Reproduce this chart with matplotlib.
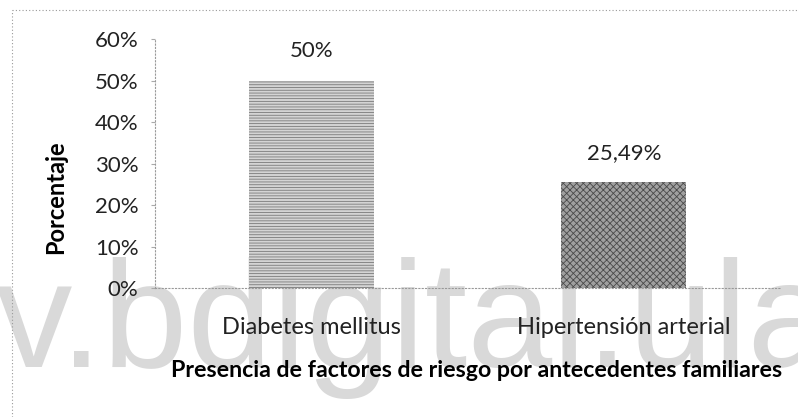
import matplotlib.pyplot as plt

categorias = ["Diabetes mellitus", "Hipertensión arterial"]
valores = [50, 25.49]
etiquetas = ["50%", "25,49%"]
yticks = [0, 10, 20, 30, 40, 50, 60]

plt.rcParams['font.family'] = ['Lato', 'DejaVu Sans']
plt.rcParams['hatch.linewidth'] = 0.6

fig = plt.figure(figsize=(7.98, 4.17), dpi=100)

# watermark behind everything
fig.text(-5 / 798, 1 - 367 / 417, "v.bdigital.ula", fontsize=110, color='#d9d9d9',
         family='Liberation Sans', ha='left', va='baseline', zorder=-5)

# outer chart border (only left/top visible)
fig.add_artist(plt.Line2D([12 / 798, 12 / 798], [0, 1 - 10 / 417], transform=fig.transFigure,
                          color='#999999', lw=0.8, ls=(0, (1, 2))))
fig.add_artist(plt.Line2D([12 / 798, 1], [1 - 10 / 417, 1 - 10 / 417], transform=fig.transFigure,
                          color='#999999', lw=0.8, ls=(0, (1, 2))))

ax = fig.add_axes([155 / 798, 1 - 288 / 417, (780 - 155) / 798, (288 - 39) / 417])
ax.patch.set_alpha(0)

x = range(len(categorias))
b = ax.bar(x, valores, width=0.4, color=['#d4d4d4', '#a0a0a0'],
           edgecolor=['#7a7a7a', '#4a4a4a'], linewidth=0, zorder=2)
b[0].set_hatch('------')
b[1].set_hatch('xxxxx')

for i, (v, t) in enumerate(zip(valores, etiquetas)):
    ax.annotate(t, (i, v), xytext=(0, 14), textcoords='offset points',
                ha='center', va='bottom', fontsize=16, color='#222222')

ax.set_xlim(-0.5, 1.5)
ax.set_ylim(0, 60)
ax.set_yticks(yticks)
ax.set_yticklabels([f"{t}%" for t in yticks], fontsize=16, color='#222222')
ax.set_xticks(list(x))
ax.set_xticklabels(categorias, fontsize=17, color='#222222')
ax.tick_params(axis='y', length=3, color='#aaaaaa', pad=9)
ax.tick_params(axis='x', length=0, pad=21)

for s in ['top', 'right']:
    ax.spines[s].set_visible(False)
for s in ['left', 'bottom']:
    ax.spines[s].set_color('#999999')
    ax.spines[s].set_linewidth(0.8)
    ax.spines[s].set_linestyle((0, (1, 2)))

ax.set_ylabel("Porcentaje", fontsize=17, fontweight='bold', labelpad=20)
ax.yaxis.label.set_y(0.365)
ax.set_xlabel("Presencia de factores de riesgo por antecedentes familiares",
              fontsize=16.7, fontweight='bold', labelpad=16)
ax.xaxis.label.set_x(0.515)

fig.savefig("out.png", dpi=100)
